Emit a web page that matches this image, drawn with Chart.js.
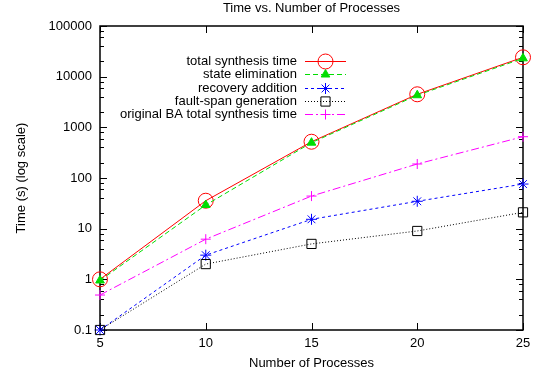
<!DOCTYPE html>
<html lang="en">
<head>
  <meta charset="UTF-8" />
  <title>Time vs. Number of Processes</title>
  <script src="https://cdn.jsdelivr.net/npm/chart.js"></script>
  <style>
    html, body { margin: 0; padding: 0; background: #fff; }
    #wrap { width: 537px; height: 379px; }
  </style>
</head>
<body>
  <div id="wrap"><canvas id="timeChart" width="537" height="379"></canvas></div>

  <script>
    // data
    const processes = [5, 10, 15, 20, 25];
    const totalSynthesis = [1.0, 35.6, 520, 4490, 24100];
    const stateElimination = [0.95, 29.3, 498, 4300, 23000];
    const recoveryAddition = [0.1, 3.0, 15.3, 34.7, 76];
    const faultSpan = [0.1, 2.0, 5.0, 9.0, 21];
    const originalBA = [0.49, 6.2, 44, 189, 653];

    const seriesLabels = [
      "total synthesis time",
      "state elimination",
      "recovery addition",
      "fault-span generation",
      "original BA total synthesis time"
    ];
    const xTicks = [5, 10, 15, 20, 25];
    const yTicks = [0.1, 1, 10, 100, 1000, 10000, 100000];

    const FONT = "'Liberation Sans', Arial, Helvetica, sans-serif";
    Chart.defaults.font.family = FONT;
    Chart.defaults.font.size = 13;
    Chart.defaults.color = "#000";

    const toPoints = arr => arr.map((v, i) => ({ x: processes[i], y: v }));

    const styles = [
      { color: "#ff0000", dash: [], pointStyle: "circle", radius: 7.5, fill: "rgba(0,0,0,0)" },
      { color: "#00dd00", dash: [5, 3], pointStyle: "triangle", radius: 5, fill: "#00dd00" },
      { color: "#0000ff", dash: [3, 3], pointStyle: "star", radius: 5.5, fill: "#0000ff" },
      { color: "#000000", dash: [1, 2], pointStyle: "rect", radius: 6.5, fill: "rgba(0,0,0,0)" },
      { color: "#ff00ff", dash: [8, 3, 2, 3], pointStyle: "cross", radius: 5, fill: "#ff00ff" }
    ];
    const seriesData = [totalSynthesis, stateElimination, recoveryAddition, faultSpan, originalBA];

    const datasets = seriesData.map((arr, i) => ({
      label: seriesLabels[i],
      data: toPoints(arr),
      borderColor: styles[i].color,
      backgroundColor: styles[i].fill,
      borderWidth: 1,
      borderDash: styles[i].dash,
      pointStyle: styles[i].pointStyle,
      pointRadius: styles[i].radius,
      pointBorderColor: styles[i].color,
      pointBackgroundColor: styles[i].fill,
      pointBorderWidth: 1,
      tension: 0,
      clip: false,
      order: 5 - i
    }));

    // gnuplot-like frame with inward ticks on all sides
    const framePlugin = {
      id: "frame",
      beforeDatasetsDraw(chart) {
        const { ctx, chartArea: a, scales } = chart;
        ctx.save();
        ctx.strokeStyle = "#000";
        ctx.lineWidth = 1.5;
        ctx.strokeRect(a.left, a.top, a.right - a.left, a.bottom - a.top);
        ctx.lineWidth = 1;
        ctx.beginPath();
        xTicks.forEach(v => {
          const x = Math.round(scales.x.getPixelForValue(v)) + 0.5;
          ctx.moveTo(x, a.bottom); ctx.lineTo(x, a.bottom - 7);
          ctx.moveTo(x, a.top); ctx.lineTo(x, a.top + 7);
        });
        yTicks.forEach((v, k) => {
          const y = Math.round(scales.y.getPixelForValue(v)) + 0.5;
          ctx.moveTo(a.left, y); ctx.lineTo(a.left + 7, y);
          ctx.moveTo(a.right, y); ctx.lineTo(a.right - 7, y);
          if (k < yTicks.length - 1) {
            [2, 4, 6, 8].forEach(m => {
              const ym = Math.round(scales.y.getPixelForValue(v * m)) + 0.5;
              ctx.moveTo(a.left, ym); ctx.lineTo(a.left + 4, ym);
              ctx.moveTo(a.right, ym); ctx.lineTo(a.right - 4, ym);
            });
          }
        });
        ctx.stroke();
        ctx.restore();
      }
    };

    // title centred over the plot area
    const titlePlugin = {
      id: "plotTitle",
      afterDraw(chart) {
        const { ctx, chartArea: a } = chart;
        ctx.save();
        ctx.font = "13px " + FONT;
        ctx.fillStyle = "#000";
        ctx.textAlign = "center";
        ctx.textBaseline = "middle";
        ctx.fillText("Time vs. Number of Processes", (a.left + a.right) / 2, 8);
        ctx.restore();
      }
    };

    // key inside the plot: text right-aligned, sample line + marker on the right
    const keyPlugin = {
      id: "key",
      afterDraw(chart) {
        const { ctx } = chart;
        const textRight = 297, lineL = 305, lineR = 346, top = 61, step = 13.3;
        ctx.save();
        ctx.font = "13px " + FONT;
        ctx.textAlign = "right";
        ctx.textBaseline = "middle";
        chart.data.datasets.forEach((ds, i) => {
          const y = Math.round(top + i * step);
          ctx.fillStyle = "#000";
          ctx.fillText(ds.label, textRight, y);
          ctx.setLineDash(styles[i].dash);
          ctx.strokeStyle = styles[i].color;
          ctx.lineWidth = 1.2;
          ctx.beginPath();
          ctx.moveTo(lineL, y + 0.5);
          ctx.lineTo(lineR, y + 0.5);
          ctx.stroke();
          ctx.setLineDash([]);
          if (Chart.helpers && Chart.helpers.drawPoint) {
            ctx.lineWidth = 1;
            ctx.fillStyle = styles[i].fill;
            ctx.strokeStyle = styles[i].color;
            Chart.helpers.drawPoint(ctx, {
              pointStyle: styles[i].pointStyle, radius: styles[i].radius, rotation: 0, borderWidth: 1
            }, (lineL + lineR) / 2, y + 0.5);
          }
        });
        ctx.restore();
      }
    };

    new Chart(document.getElementById("timeChart"), {
      type: "line",
      data: { datasets },
      options: {
        responsive: false,
        animation: false,
        layout: { padding: { top: 26, right: 14, left: 0, bottom: 0 } },
        plugins: { legend: { display: false }, title: { display: false }, tooltip: { enabled: false } },
        scales: {
          x: {
            type: "linear",
            min: 5,
            max: 25,
            afterBuildTicks: s => { s.ticks = xTicks.map(v => ({ value: v })); },
            afterFit: s => { s.height = 49; },
            grid: { display: false, drawTicks: false },
            border: { display: false },
            ticks: { padding: 6, autoSkip: false, maxRotation: 0 },
            title: { display: true, text: "Number of Processes", padding: { top: 0, bottom: 8 } }
          },
          y: {
            type: "logarithmic",
            min: 0.1,
            max: 100000,
            afterBuildTicks: s => { s.ticks = yTicks.map(v => ({ value: v })); },
            afterFit: s => { s.width = 100; },
            grid: { display: false, drawTicks: false },
            border: { display: false },
            ticks: { padding: 8, autoSkip: false, callback: v => String(v) },
            title: { display: true, text: "Time (s) (log scale)", padding: { top: 14, bottom: 0 } }
          }
        }
      },
      plugins: [framePlugin, titlePlugin, keyPlugin]
    });
  </script>
</body>
</html>
